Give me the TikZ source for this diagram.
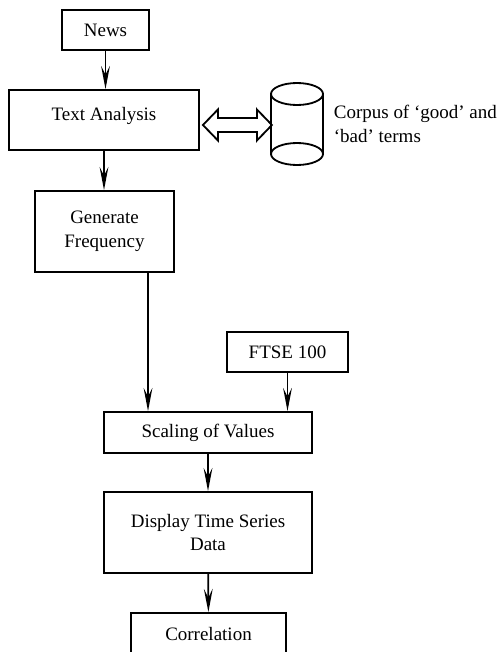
\documentclass[tikz,border=0pt]{standalone}
\usepackage{fontspec}
\setmainfont{Liberation Serif}
\tikzset{box/.style = {draw, line width=1.3pt, inner sep=0, font=\fontsize{13.5}{17}\selectfont, align=center}}
\tikzset{arr/.style = {line width=1.3pt, -{Stealth[length=0.58cm, width=0.22cm, inset=0.22cm]}}}
\usetikzlibrary{arrows.meta,calc}

\begin{document}
\begin{tikzpicture}[x=0.025cm, y=-0.025cm]
    \useasboundingbox (0,0) rectangle (502,652);
    \clip (0,0) rectangle (502,652);

    \node [box, minimum width=2.175cm, minimum height=1cm] (news) at (105.5,30) {News};
    \node [box, minimum width=4.75cm, minimum height=1.5cm, text height=10pt, text depth=10pt] (ta) at (104,120) {Text Analysis};
    \node [box, minimum width=3.475cm, minimum height=2.025cm] (gen) at (104.5,231.5) {Generate\\Frequency};
    \node [box, minimum width=3.025cm, minimum height=1cm] (ftse) at (287.5,352) {FTSE 100};
    \node [box, minimum width=5.2cm, minimum height=1.025cm] (scale) at (208,432.5) {Scaling of Values};
    \node [box, minimum width=5.2cm, minimum height=2.025cm] (disp) at (208,532.5) {Display Time Series\\Data};
    \node [box, minimum width=3.875cm, minimum height=1.05cm] (corr) at (208.5,634) {Correlation};

    % corpus store
    \coordinate (db) at (297,124);
    \draw [line width=1.3pt] (db) +(-26,-30) -- +(-26,30) +(26,-30) -- +(26,30);
    \draw [line width=1.3pt] (db) +(0,-30) ellipse [x radius=26, y radius=11] +(0,30) ellipse [x radius=26, y radius=11];
    \node [box, draw=none, anchor=west, align=left] (corpus) at (333,124) {Corpus of `good' and\\`bad' terms};

    % two way exchange
    \draw [line width=1.3pt, line join=miter] (ta.east) ++(3,5) -- ++(15,-15.5) -- ++(0,8.5) -- ++(39,0) -- ++(0,-8.5)
        -- ++(15,15.5) -- ++(-15,15.5) -- ++(0,-8.5) -- ++(-39,0) -- ++(0,8.5) -- cycle;

    \draw [arr] (news.south) -- (news.south |- ta.north);
    \draw [arr] (ta.south) -- (ta.south |- gen.north);
    \draw [arr] ([xshift=1.0875cm]gen.south) -- ([xshift=1.0875cm]gen.south |- scale.north);
    \draw [arr] (ftse.south) -- (ftse.south |- scale.north);
    \draw [arr] (scale) -- (disp);
    \draw [arr] (disp) -- (corr);
\end{tikzpicture}
\end{document}
